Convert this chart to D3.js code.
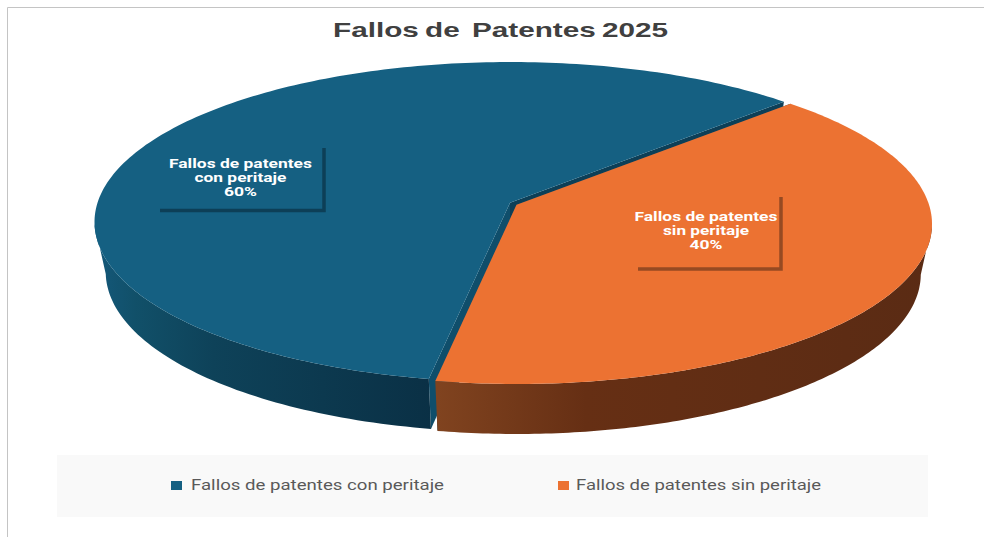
<!DOCTYPE html>
<html>
<head>
<meta charset="utf-8">
<script src="https://cdnjs.cloudflare.com/ajax/libs/d3/7.8.5/d3.min.js"></script>
<style>html,body{margin:0;padding:0;background:#fff}svg{display:block}</style>
</head>
<body>
<svg id="c" width="984" height="537"></svg>
<script>
const titleText = "Fallos de  Patentes 2025";
const categories = ["Fallos de patentes con peritaje", "Fallos de patentes sin peritaje"];
const labelLines = [["Fallos de patentes", "con peritaje"], ["Fallos de patentes", "sin peritaje"]];
const values = [60, 40];
const topColors = ["#156082", "#EC7232"];
const wallStops = [
  [["0", "#14587a"], ["0.12", "#115069"], ["0.35", "#0e4259"], ["1", "#0a3045"]],
  [["0", "#80431f"], ["0.3", "#662f14"], ["1", "#5a2b14"]]
];
const radialColors = ["#0f4e6b", "#0f4e6b"];
const lineColors = ["#0d3f57", "#964a22"];

const W = 984, H = 537;
const svg = d3.select("#c");
const color = d3.scaleOrdinal().domain(categories).range(topColors);
const fmt = d3.format(".0%");
const total = d3.sum(values);

// Tilted-disc projection; the lower rim recedes slightly in x
const rx = 415.5, ry = 160, k = -0.12, depth = 50, rimScale = 0.973;
const centres = [{x: 510, y: 222}, {x: 516.5, y: 224}];
const project = (i, a, r = 1, dz = 0, sx = 1) => {
  const u = r * Math.sin(a), v = -r * Math.cos(a);
  const d = 1 + k * v;
  return [centres[i].x + sx * rx * u * Math.sqrt(1 - k * k) / d,
          centres[i].y + ry * (v + k) / d + dz];
};
const deg = Math.PI / 180;
const pie = d3.pie().sort(null).value(d => d)
  .startAngle(190 * deg).endAngle((190 + 360) * deg);
const arcs = pie(values);
const path = d3.line();

const defs = svg.append("defs");
const gradSpans = [[95, 432], [438, 932]];
wallStops.forEach((stops, i) => {
  const g = defs.append("linearGradient").attr("id", "wall" + i)
    .attr("gradientUnits", "userSpaceOnUse")
    .attr("x1", gradSpans[i][0]).attr("x2", gradSpans[i][1])
    .attr("y1", 0).attr("y2", 0);
  stops.forEach(s => g.append("stop").attr("offset", s[0]).attr("stop-color", s[1]));
});

// Frame
svg.append("path").attr("d", `M7.5,${H}V7.5H${W}`).attr("fill", "none").attr("stroke", "#c4c4c4").attr("stroke-width", 1);

// Title
svg.append("text").text(titleText).attr("x", 500.5).attr("y", 37)
  .attr("text-anchor", "middle").attr("font-family", "Liberation Sans")
  .attr("font-weight", "700").attr("font-size", 21).attr("fill", "#404040")
  .style("white-space", "pre").style("word-spacing", "-1.5px")
  .attr("textLength", 335).attr("lengthAdjust", "spacingAndGlyphs");

function sampled(a0, a1, n = 200) {
  return d3.range(n + 1).map(j => a0 + (a1 - a0) * j / n);
}

arcs.forEach((d, i) => {
  const g = svg.append("g");
  const pts = sampled(d.startAngle, d.endAngle);

  // Straight cut faces
  [d.startAngle, d.endAngle].forEach(a => {
    g.append("path").attr("fill", i === 0 && a === d.endAngle ? lineColors[0] : radialColors[i])
      .attr("d", path([project(i, a, 0), project(i, a, 1), project(i, a, 1, depth, rimScale), project(i, a, 0, depth)]) + "Z");
  });

  // Outer rim: only the front-facing part
  const front = pts.filter(a => Math.cos(a) < -0.12);
  const top = front.map(a => project(i, a));
  const bottom = front.map(a => project(i, a, 1, depth, rimScale)).reverse();
  g.append("path").attr("d", path(top.concat(bottom)) + "Z").attr("fill", `url(#wall${i})`);

  // Top face
  const face = [project(i, 0, 0)].concat(pts.map(a => project(i, a)));
  g.append("path").attr("d", path(face) + "Z").attr("fill", color(categories[i]));
});

// Data labels with elbow strokes
const labelBoxes = [
  {cx: 240.5, y0: 167.5, left: 160, right: 324, top: 148, bottom: 210.5, w2: 92},
  {cx: 706, y0: 220.5, left: 638, right: 781, top: 197, bottom: 269, w2: 86}
];
labelBoxes.forEach((b, i) => {
  svg.append("path").attr("d", `M${b.left},${b.bottom}H${b.right}V${b.top}`)
    .attr("fill", "none").attr("stroke", lineColors[i]).attr("stroke-width", 3.5);
  const lines = labelLines[i].concat([fmt(values[i] / total)]);
  const widths = [143, b.w2, 33];
  lines.forEach((t, j) => {
    svg.append("text").text(t).attr("x", b.cx).attr("y", b.y0 + j * 14.4)
      .attr("text-anchor", "middle").attr("font-family", "Roboto").attr("font-weight", "700")
      .attr("font-size", 12).attr("fill", "#fff")
      .attr("textLength", widths[j]).attr("lengthAdjust", "spacingAndGlyphs");
  });
});

// Legend
svg.append("rect").attr("x", 57).attr("y", 455).attr("width", 871).attr("height", 62).attr("fill", "#f9f9f9");
const legendX = [171, 558], legendTextX = [191, 576], legendLen = [253, 245];
categories.forEach((c, i) => {
  svg.append("rect").attr("x", legendX[i]).attr("y", 481).attr("width", 11).attr("height", 9).attr("fill", color(c));
  svg.append("text").text(c).attr("x", legendTextX[i]).attr("y", 490)
    .attr("font-family", "Roboto").attr("font-size", 14).attr("fill", "#595959")
    .attr("textLength", legendLen[i]).attr("lengthAdjust", "spacingAndGlyphs");
});
</script>
</body>
</html>
